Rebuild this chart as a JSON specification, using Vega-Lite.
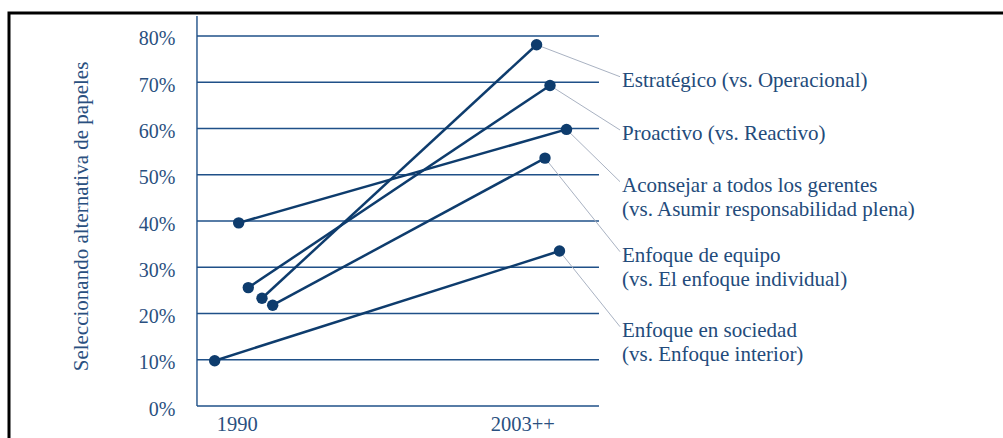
{
  "$schema": "https://vega.github.io/schema/vega-lite/v6.json",
  "width": 1004,
  "height": 437,
  "autosize": {"type": "none"},
  "padding": {"left": 9, "top": 13, "right": -10, "bottom": -12},
  "background": "white",
  "config": {
    "view": {"stroke": "#000000", "strokeWidth": 3},
    "font": "Liberation Serif",
    "axis": {"domain": false, "ticks": false, "tickSize": 0, "grid": false, "labels": true}
  },
  "datasets": {
    "puntos": [
      {"serie": "Estratégico", "periodo": "1990", "pos": 8.86, "valor": 23.3},
      {"serie": "Estratégico", "periodo": "2003++", "pos": 105.04, "valor": 78.1},
      {"serie": "Proactivo", "periodo": "1990", "pos": 4.06, "valor": 25.6},
      {"serie": "Proactivo", "periodo": "2003++", "pos": 109.74, "valor": 69.3},
      {"serie": "Aconsejar", "periodo": "1990", "pos": 0.7, "valor": 39.6},
      {"serie": "Aconsejar", "periodo": "2003++", "pos": 115.52, "valor": 59.8},
      {"serie": "Equipo", "periodo": "1990", "pos": 12.61, "valor": 21.8},
      {"serie": "Equipo", "periodo": "2003++", "pos": 107.99, "valor": 53.6},
      {"serie": "Sociedad", "periodo": "1990", "pos": -7.71, "valor": 9.8},
      {"serie": "Sociedad", "periodo": "2003++", "pos": 113.07, "valor": 33.5}
    ],
    "etiquetas": [
      {"serie": "Estratégico", "etiqueta": "Estratégico (vs. Operacional)", "lx": 134.26, "ly": 71.2},
      {"serie": "Proactivo", "etiqueta": "Proactivo (vs. Reactivo)", "lx": 134.26, "ly": 59.68},
      {"serie": "Aconsejar", "etiqueta": "Aconsejar a todos los gerentes\n(vs. Asumir responsabilidad plena)", "lx": 134.26, "ly": 48.5},
      {"serie": "Equipo", "etiqueta": "Enfoque de equipo\n(vs. El enfoque individual)", "lx": 134.26, "ly": 33.36},
      {"serie": "Sociedad", "etiqueta": "Enfoque en sociedad\n(vs. Enfoque interior)", "lx": 134.26, "ly": 17.15}
    ],
    "rejilla": [
      {"valor": 0}, {"valor": 10}, {"valor": 20}, {"valor": 30}, {"valor": 40},
      {"valor": 50}, {"valor": 60}, {"valor": 70}, {"valor": 80}
    ]
  },
  "layer": [
    {
      "data": {"name": "rejilla"},
      "mark": {"type": "rule", "color": "#1f5088", "strokeWidth": 1.3},
      "encoding": {
        "y": {"field": "valor", "type": "quantitative"},
        "x": {"datum": -13.91, "type": "quantitative"},
        "x2": {"datum": 126.9}
      }
    },
    {
      "data": {"values": [{}]},
      "mark": {"type": "rule", "color": "#1f5088", "strokeWidth": 1.4},
      "encoding": {
        "x": {"datum": -13.91, "type": "quantitative"},
        "y": {"datum": 0, "type": "quantitative"},
        "y2": {"datum": 84.32}
      }
    },
    {
      "data": {"name": "puntos"},
      "transform": [
        {"filter": "datum.periodo == '2003++'"},
        {"lookup": "serie", "from": {"data": {"name": "etiquetas"}, "key": "serie", "fields": ["lx", "ly"]}}
      ],
      "mark": {"type": "rule", "color": "#a9b2c2", "strokeWidth": 1},
      "encoding": {
        "x": {"field": "pos", "type": "quantitative"},
        "y": {"field": "valor", "type": "quantitative"},
        "x2": {"field": "lx"},
        "y2": {"field": "ly"}
      }
    },
    {
      "data": {"name": "puntos"},
      "mark": {"type": "line", "color": "#0e3c6d", "strokeWidth": 2.5},
      "encoding": {
        "x": {
          "field": "pos",
          "type": "quantitative",
          "scale": {"domain": [-79.75, 271.91], "nice": false, "zero": false},
          "axis": {
            "values": [0, 100],
            "labelExpr": "datum.value == 0 ? '1990' : '2003++'",
            "title": null,
            "offset": -44,
            "labelPadding": 24,
            "labelBaseline": "alphabetic",
            "labelAlign": "center",
            "labelFont": "Liberation Serif",
            "labelFontSize": 20.5,
            "labelColor": "#2a5080"
          }
        },
        "y": {
          "field": "valor",
          "type": "quantitative",
          "scale": {"domain": [-9.51, 84.97], "nice": false, "zero": false},
          "axis": {
            "values": [0, 10, 20, 30, 40, 50, 60, 70, 80],
            "labelExpr": "datum.value + '%'",
            "title": "Seleccionando alternativa de papeles",
            "offset": -188,
            "labelPadding": 22,
            "labelBaseline": "alphabetic",
            "labelOffset": 9,
            "labelFont": "Liberation Serif",
            "labelFontSize": 20,
            "labelColor": "#2a5080",
            "titleFont": "Liberation Serif",
            "titleFontSize": 21,
            "titleFontWeight": "normal",
            "titleColor": "#2a5080",
            "titleAngle": -90,
            "titleAlign": "center",
            "titleBaseline": "alphabetic",
            "titleX": -110,
            "titleY": 203
          }
        },
        "detail": {"field": "serie"},
        "order": {"field": "pos"}
      }
    },
    {
      "data": {"name": "puntos"},
      "mark": {"type": "circle", "color": "#0e3c6d", "opacity": 1, "size": 130},
      "encoding": {
        "x": {"field": "pos", "type": "quantitative"},
        "y": {"field": "valor", "type": "quantitative"}
      }
    },
    {
      "data": {"name": "etiquetas"},
      "mark": {
        "type": "text",
        "align": "left",
        "baseline": "alphabetic",
        "dx": 2,
        "dy": 10,
        "lineBreak": "\n",
        "lineHeight": 24.3,
        "font": "Liberation Serif",
        "fontSize": 21,
        "color": "#234b7b"
      },
      "encoding": {
        "x": {"field": "lx", "type": "quantitative"},
        "y": {"field": "ly", "type": "quantitative"},
        "text": {"field": "etiqueta"}
      }
    }
  ]
}
